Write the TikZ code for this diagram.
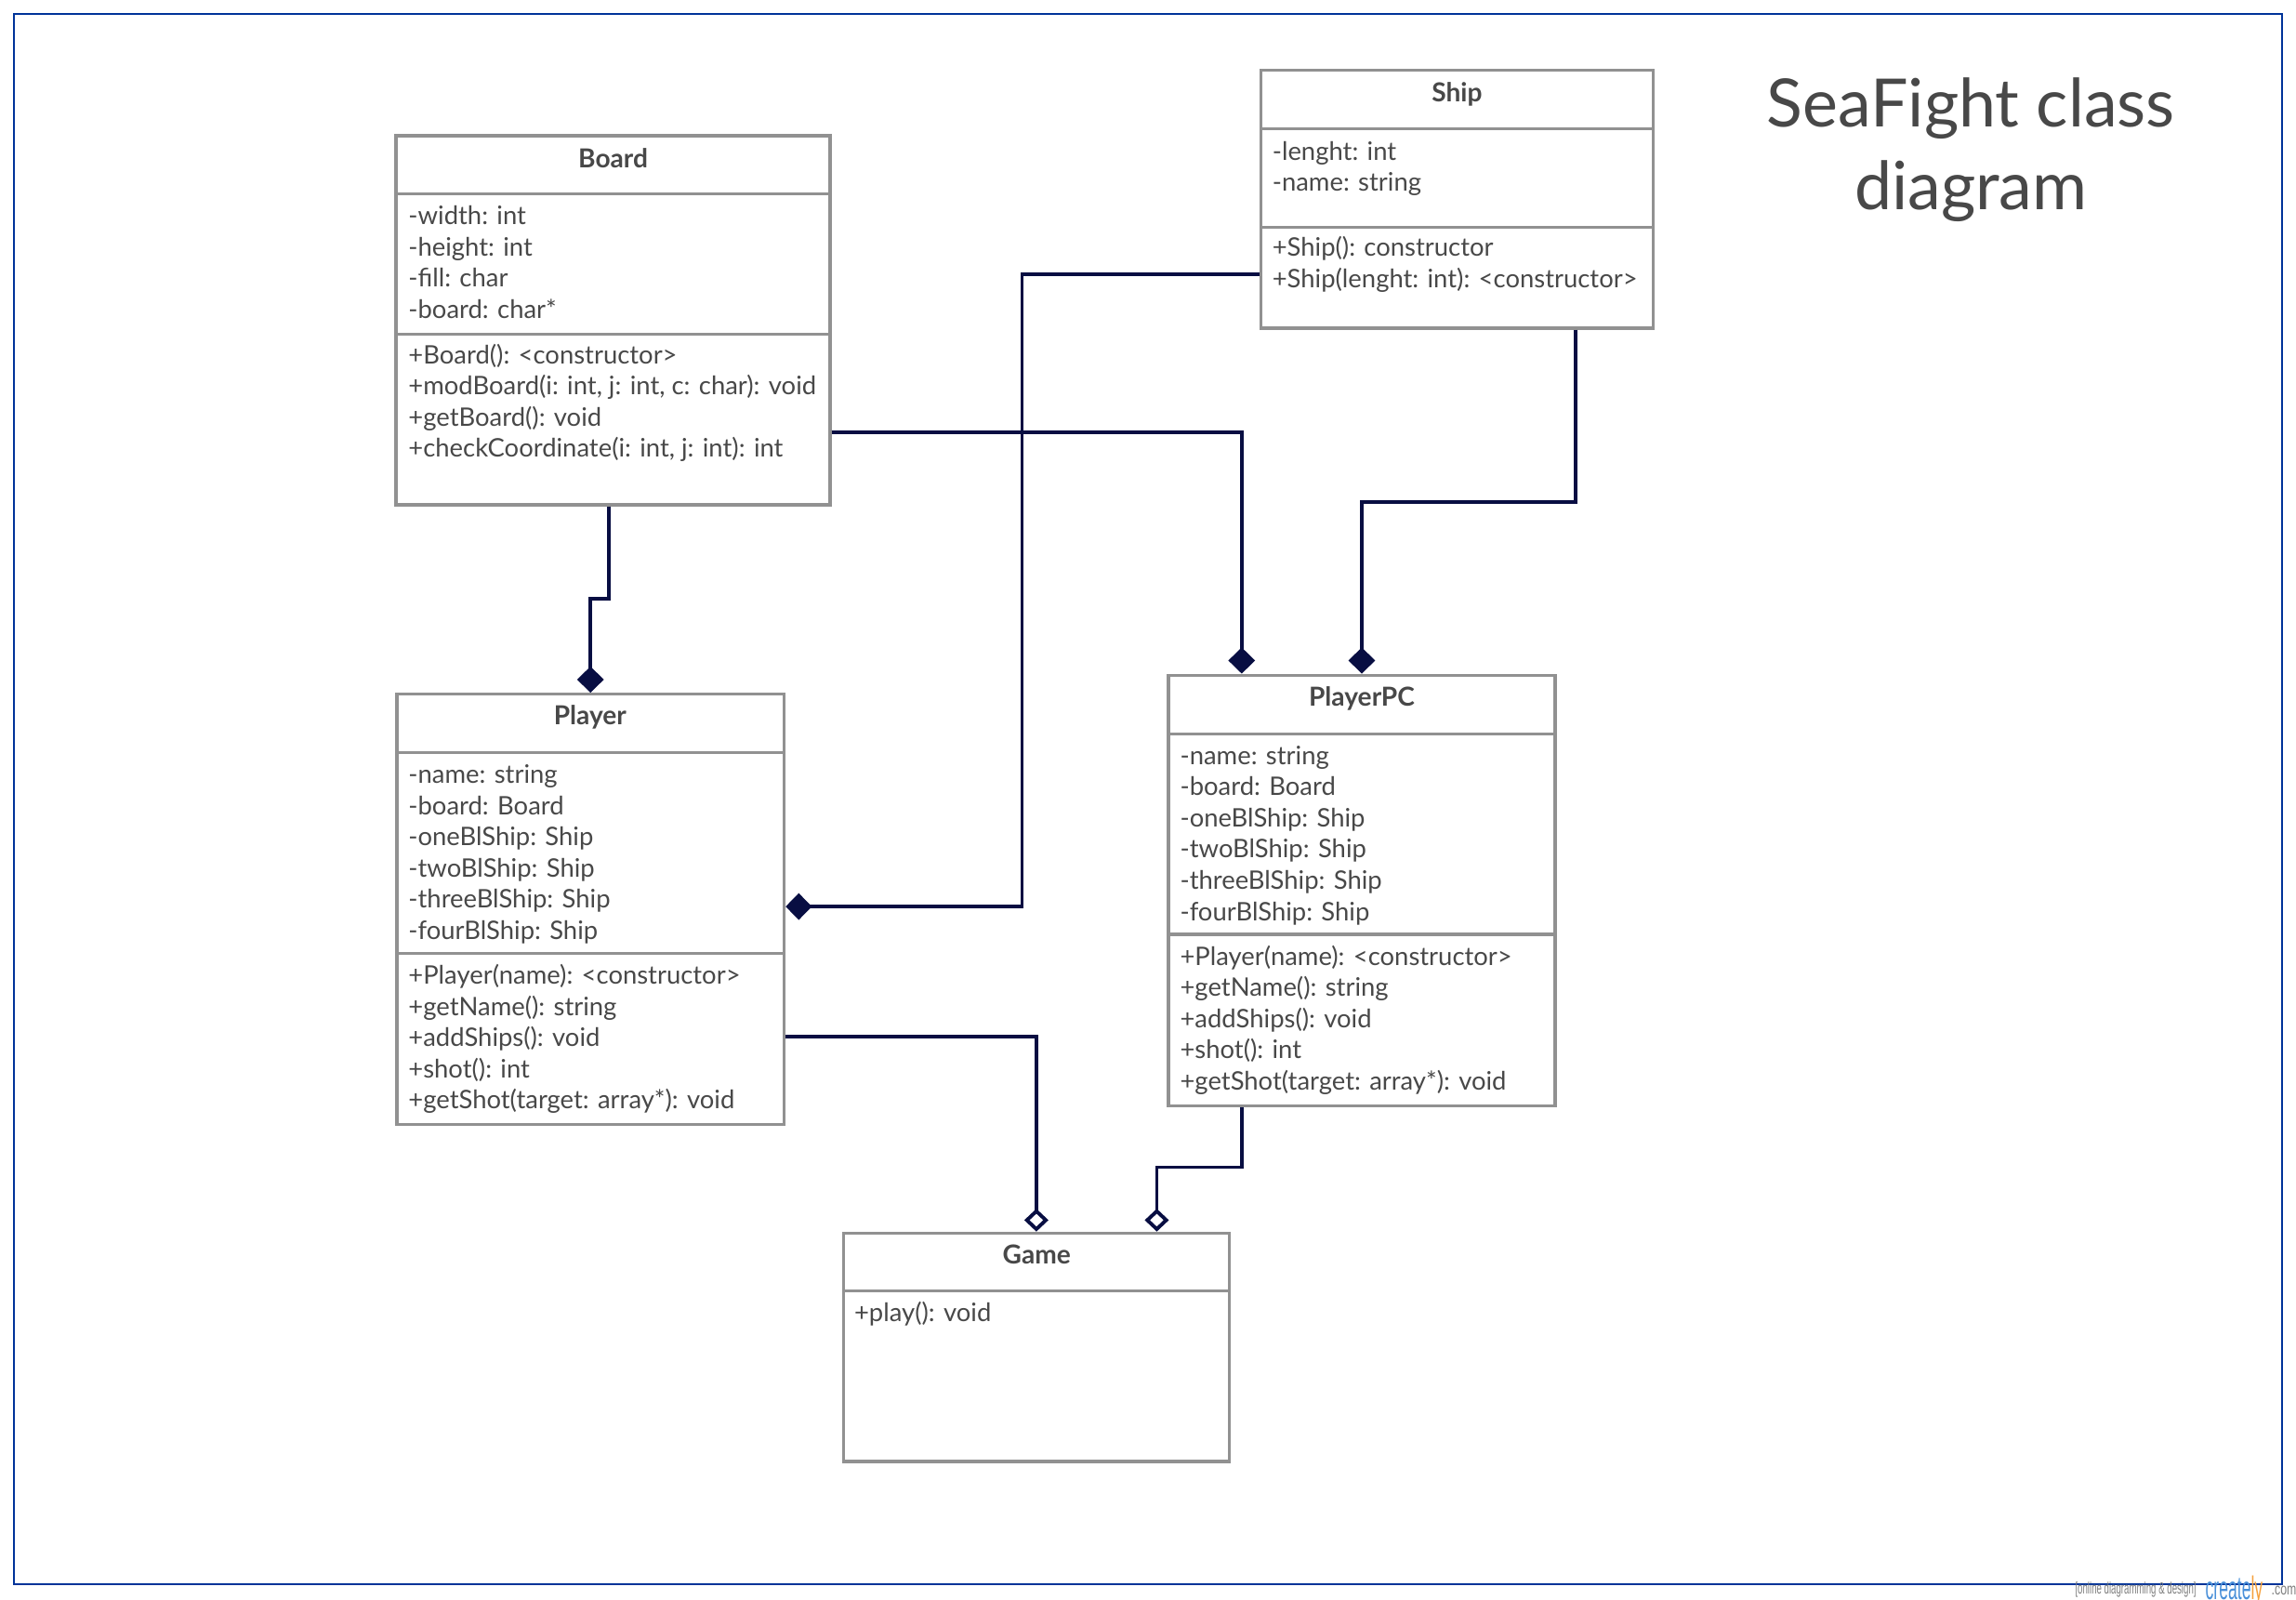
\documentclass[tikz,border=0pt]{standalone}
\usepackage{fontspec}
\setmainfont{Lato}
\newfontfamily\wmfont{Liberation Sans}
\usetikzlibrary{arrows.meta,fit,calc}

\definecolor{boxgray}{RGB}{145,145,145}
\definecolor{textgray}{RGB}{72,72,72}
\definecolor{navy}{RGB}{8,14,66}
\definecolor{frameblue}{RGB}{0,51,153}
\definecolor{wmblue}{RGB}{74,144,217}
\definecolor{wmorange}{RGB}{245,160,60}

\tikzset{
  classbox/.style={draw=boxgray, line width=0.95pt, inner sep=0pt},
  classline/.style={draw=boxgray, line width=0.95pt},
  classname/.style={anchor=base, inner sep=0pt, text=textgray,
    font=\fontsize{8}{9}\selectfont\bfseries},
  member/.style={anchor=base west, inner sep=0pt, text=textgray,
    font=\fontsize{7.8}{9}\selectfont},
  conn/.style={draw=navy, line width=1.1pt},
  comp/.style={conn, -{Diamond[length=8pt, width=8.2pt]}},
  aggr/.style={conn, -{Diamond[open, length=7pt, width=7.4pt]}},
}

\begin{document}
\begin{tikzpicture}[x=0.01575cm, y=-0.01575cm]
  \useasboundingbox (0,0) rectangle (1568,1092);
  \draw[frameblue, line width=0.7pt] (9.5,9.5) rectangle (1558.4,1081.7);
  % title
  \node[anchor=base, inner sep=0pt, text=textgray,
    font=\fontsize{20.4}{25}\selectfont] (title-1) at (1346,86.8) {SeaFight class};
  \node[anchor=base, inner sep=0pt, text=textgray,
    font=\fontsize{20.4}{25}\selectfont] (title-2) at (1346,143.3) {diagram};
  % Board
  \node[classbox, fit={(270.5,92.7) (566.9,344.7)}] (Board) {};
  \draw[classline] (270.5,132.5) -- (566.9,132.5);
  \draw[classline] (270.5,228) -- (566.9,228);
  \node[classname] (Board-n) at (418.7,114.7) {Board};
  \foreach \t [count=\i] in {-width: int, -height: int, -fill: char, -board: char*}
    \node[member] (Board-a\i) at (278.5,{153.4+21.3*(\i-1)}) {\t};
  \foreach \t [count=\i] in {+Board(): <constructor>,
    {+modBoard(i: int, j: int, c: char): void}, +getBoard(): void,
    {+checkCoordinate(i: int, j: int): int}}
    \node[member] (Board-m\i) at (278.5,{248.4+21.3*(\i-1)}) {\t};
  % Ship
  \node[classbox, fit={(861,48) (1129,224)}] (Ship) {};
  \draw[classline] (861,88) -- (1129,88);
  \draw[classline] (861,155) -- (1129,155);
  \node[classname] (Ship-n) at (995,69.8) {Ship};
  \foreach \t [count=\i] in {-lenght: int, -name: string}
    \node[member] (Ship-a\i) at (868.5,{109.2+21.3*(\i-1)}) {\t};
  \foreach \t [count=\i] in {+Ship(): constructor, +Ship(lenght: int): <constructor>}
    \node[member] (Ship-m\i) at (868.5,{175+21.3*(\i-1)}) {\t};
  % Player
  \node[classbox, fit={(271,474) (535.5,768)}] (Player) {};
  \draw[classline] (271,514) -- (535.5,514);
  \draw[classline] (271,651) -- (535.5,651);
  \node[classname] (Player-n) at (403,495) {Player};
  \foreach \t [count=\i] in {-name: string, -board: Board, -oneBlShip: Ship,
    -twoBlShip: Ship, -threeBlShip: Ship, -fourBlShip: Ship}
    \node[member] (Player-a\i) at (278.5,{535+21.3*(\i-1)}) {\t};
  \foreach \t [count=\i] in {+Player(name): <constructor>, +getName(): string,
    +addShips(): void, +shot(): int, +getShot(target: array*): void}
    \node[member] (Player-m\i) at (278.5,{672+21.3*(\i-1)}) {\t};
  % PlayerPC
  \node[classbox, fit={(798,461) (1062,755)}] (PlayerPC) {};
  \draw[classline] (798,501) -- (1062,501);
  \draw[classline] (798,638) -- (1062,638);
  \node[classname] (PlayerPC-n) at (930,482) {PlayerPC};
  \foreach \t [count=\i] in {-name: string, -board: Board, -oneBlShip: Ship,
    -twoBlShip: Ship, -threeBlShip: Ship, -fourBlShip: Ship}
    \node[member] (PlayerPC-a\i) at (805.5,{522+21.3*(\i-1)}) {\t};
  \foreach \t [count=\i] in {+Player(name): <constructor>, +getName(): string,
    +addShips(): void, +shot(): int, +getShot(target: array*): void}
    \node[member] (PlayerPC-m\i) at (805.5,{659+21.3*(\i-1)}) {\t};
  % Game
  \node[classbox, fit={(576,842) (839.5,998)}] (Game) {};
  \draw[classline] (576,881.5) -- (839.5,881.5);
  \node[classname] (Game-n) at (708,863) {Game};
  \node[member] (Game-m1) at (583,902.5) {+play(): void};
  % connectors
  \coordinate (bp) at (416,409);
  \coordinate (bpc) at (848,295);
  \coordinate (spc) at (1076,343);
  \coordinate (sp) at (698,187);
  \coordinate (sq) at (698,619);
  \coordinate (pg) at (708,708);
  \coordinate (pcg) at (848,797);
  \coordinate (gpc) at (790,797);
  \draw[comp] (Board.south -| bp) -- (bp) -| (Player.north);
  \draw[comp] (Board.east |- bpc) -| (PlayerPC.north -| bpc);
  \draw[comp] (Ship.south -| spc) -- (spc) -| (PlayerPC.north);
  \draw[comp] (Ship.west |- sp) -- (sp) -- (sq) -- (Player.east |- sq);
  \draw[aggr] (Player.east |- pg) -| (Game.north);
  \draw[aggr] (PlayerPC.south -| pcg) -- (pcg) -- (gpc) -- (Game.north -| gpc);
  % watermark
  \node[anchor=base west, inner sep=0pt, text=gray, xscale=0.55,
    font=\wmfont\fontsize{5}{6}\selectfont] (wm-a) at (1417,1088.5)
    {[online diagramming \& design]};
  \node[anchor=base west, inner sep=0pt, xscale=0.5,
    font=\wmfont\fontsize{10}{12}\selectfont] (wm-b) at (1506,1092.5)
    {\textcolor{wmblue}{create}\textcolor{wmorange}{ly}};
  \node[anchor=base west, inner sep=0pt, text=gray, xscale=0.7,
    font=\wmfont\fontsize{5}{6}\selectfont] (wm-c) at (1551,1089) {.com};
\end{tikzpicture}
\end{document}
